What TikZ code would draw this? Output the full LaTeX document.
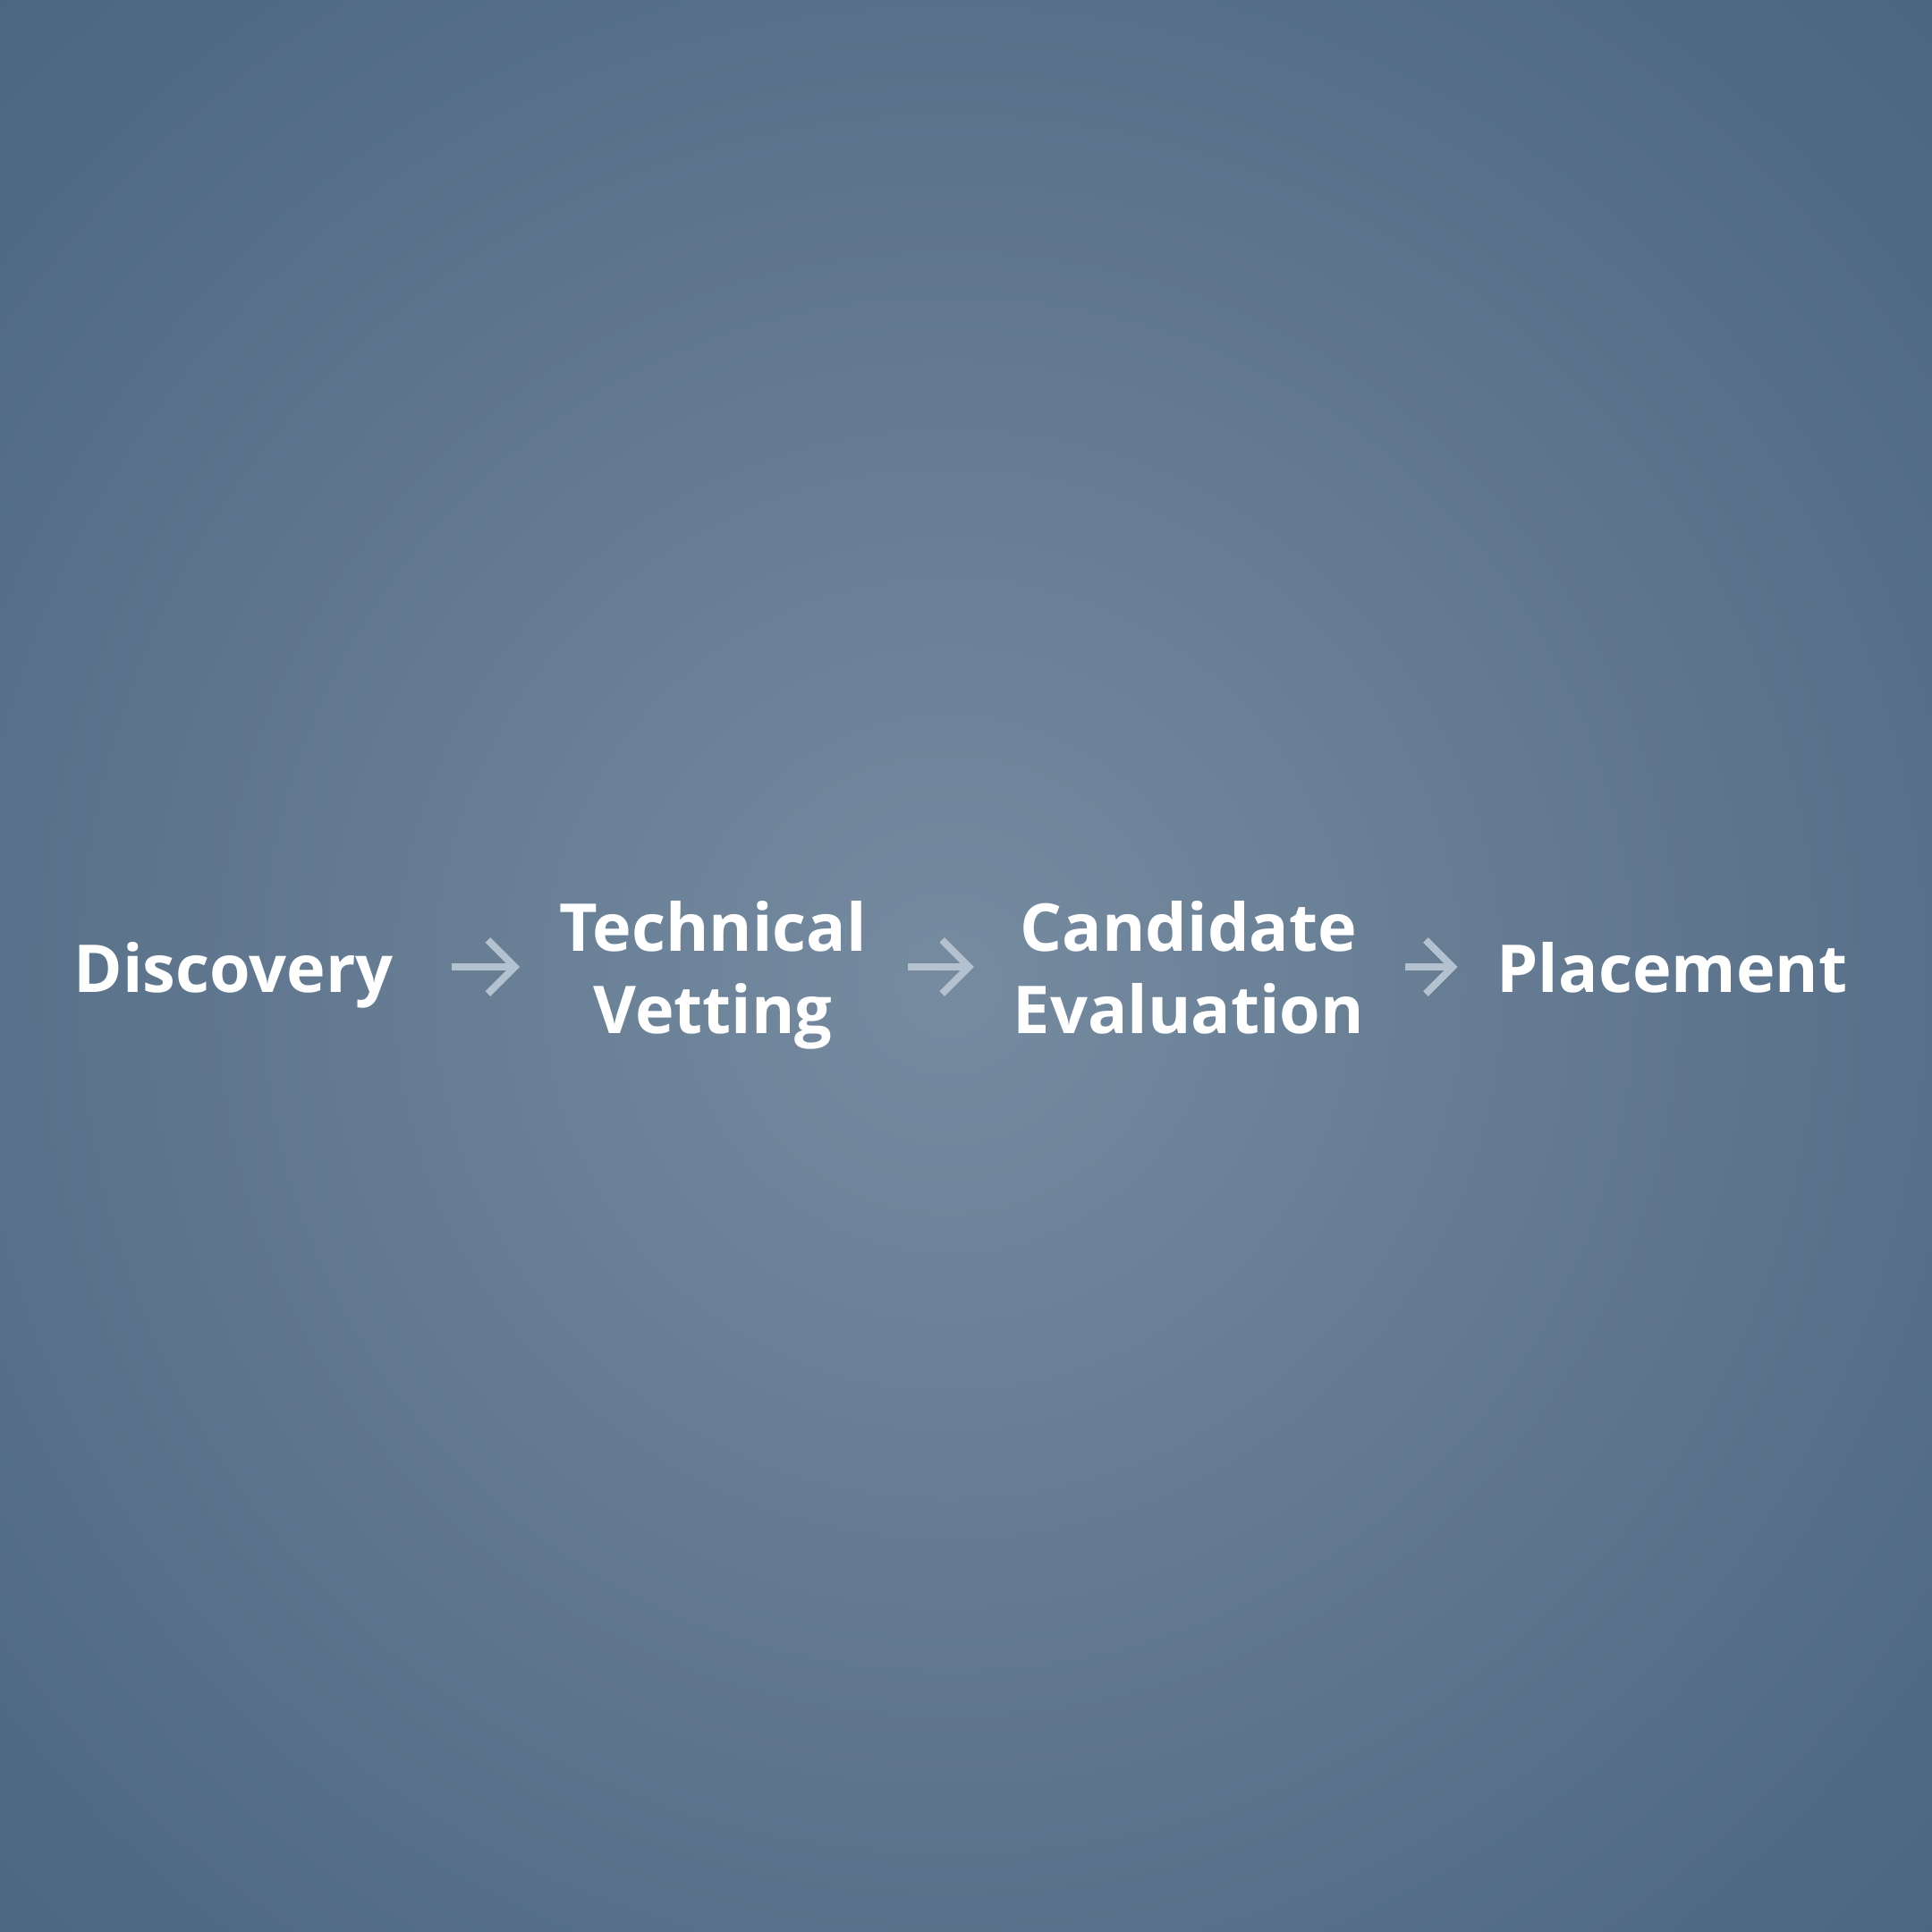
\documentclass[tikz,border=0pt]{standalone}
\usepackage{fontspec}
\setmainfont{Open Sans}
\usetikzlibrary{arrows.meta}
\definecolor{bginner}{HTML}{768BA0}
\definecolor{bgedge}{HTML}{587089}
\definecolor{bgouter}{HTML}{4B6580}
\definecolor{arrowgrey}{HTML}{B4C2CF}
\pgfdeclareradialshading{glow}{\pgfpoint{0bp}{0bp}}{color(0bp)=(bginner); color(17bp)=(bgedge); color(25bp)=(bgouter); color(50bp)=(bgouter)}
\tikzset{
  stage/.style = { inner sep=0pt, outer sep=0pt, align=center, text=white, text depth=0.25cm,
    font=\fontsize{21}{26}\selectfont\bfseries },
  flow/.style = { arrowgrey, line width=0.08cm, shorten <=0.46cm, shorten >=0.44cm,
    -{Straight Barb[length=0.3cm, width=0.6cm, line width=0.08cm]} }
}
\begin{document}
\begin{tikzpicture}
  \useasboundingbox (0,0) rectangle (21.6,-21.6);
  \clip (0,0) rectangle (21.6,-21.6);
  \fill [ bgouter ] (0,0) rectangle (21.6,-21.6);
  \shade [ shading=glow ] (10.6,-11) circle (15.8);

  \node [ stage, minimum width=3.58cm ] (discovery) at (2.71,-10.94) { Discovery };
  \node [ stage, minimum width=3.43cm ] (vetting) at (7.97,-10.94) { Technical\\Vetting };
  \node [ stage, minimum width=3.72cm ] (evaluation) at (13.29,-10.94) { Candidate\\Evaluation };
  \node [ stage, minimum width=3.79cm ] (placement) at (18.79,-10.94) { Placement };

  \draw [ flow ] ([yshift=0.13cm]discovery.east) -- ([yshift=0.13cm]vetting.west);
  \draw [ flow ] ([yshift=0.13cm]vetting.east) -- ([yshift=0.13cm]evaluation.west);
  \draw [ flow ] ([yshift=0.13cm]evaluation.east) -- ([yshift=0.13cm]placement.west);
\end{tikzpicture}
\end{document}
